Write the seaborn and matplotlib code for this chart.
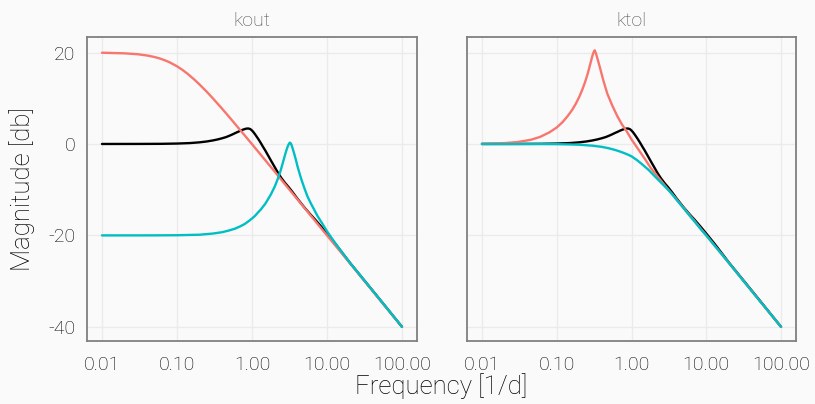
import pandas as pd
import seaborn as sns
import matplotlib.pyplot as plt

# 讀圖估計的數值 (頻率 [1/d], 幅度 [db])
# 基準曲線 (黑色), 兩個面板相同
base_f = [0.01, 0.03, 0.06, 0.1, 0.15, 0.2, 0.25, 0.3, 0.35, 0.4, 0.45, 0.5, 0.55, 0.6, 0.65,
          0.7, 0.75, 0.8, 0.85, 0.9, 0.95, 1.0, 1.05, 1.1, 1.2, 1.3, 1.4, 1.5, 1.65, 1.8, 2.0,
          2.2, 2.45, 2.75, 3.1, 3.5, 4.0, 5.0, 6.0, 7.0, 8.5, 10, 13, 20, 50, 100]
base_db = [0.0, 0.01, 0.03, 0.09, 0.2, 0.36, 0.55, 0.77, 1.0, 1.25, 1.5, 1.8, 2.1, 2.4, 2.65,
           2.9, 3.1, 3.27, 3.37, 3.38, 3.25, 2.95, 2.55, 2.1, 1.2, 0.3, -0.6, -1.4, -2.6, -3.7, -5.0,
           -6.2, -7.4, -8.5, -9.5, -10.6, -11.9, -13.9, -15.4, -16.6, -18.2, -19.6, -21.9, -25.9, -33.9, -40.0]

# kout 面板
kout_hi_f = [0.01, 0.02, 0.03, 0.04, 0.05, 0.06, 0.07, 0.08, 0.1, 0.12, 0.14, 0.17, 0.2, 0.25,
             0.3, 0.4, 0.5, 0.6, 0.7, 0.85, 1.0, 1.3, 1.6, 2.0, 2.5, 3.0, 4.0, 5.0, 7.0, 10, 20, 50, 100]
kout_hi_db = [19.96, 19.83, 19.63, 19.35, 19.03, 18.66, 18.26, 17.85, 16.99, 16.13, 15.29, 14.09,
              13.01, 11.4, 10.0, 7.7, 5.85, 4.3, 3.0, 1.35, -0.04, -2.3, -4.1, -6.0, -7.97, -9.55,
              -12.04, -13.98, -16.9, -20.0, -26.0, -34.0, -40.0]
kout_lo_f = [0.01, 0.05, 0.1, 0.2, 0.3, 0.4, 0.5, 0.6, 0.7, 0.8, 0.9, 1.0, 1.1, 1.2, 1.3, 1.5,
             1.62, 1.79, 2.0, 2.2, 2.4, 2.6, 2.8, 2.9, 3.0, 3.1, 3.2, 3.3, 3.4, 3.5, 3.65, 3.85,
             4.06, 4.5, 5.0, 5.5, 6.09, 7.5, 8.5, 10, 13, 20, 50, 100]
kout_lo_db = [-20.0, -19.99, -19.96, -19.85, -19.6, -19.3, -18.9, -18.5, -18.0, -17.5, -16.9,
              -16.3, -15.7, -15.0, -14.4, -13.1, -12.2, -11.0, -9.4, -7.7, -5.9, -3.9, -2.0, -1.2,
              -0.5, 0.0, 0.3, 0.1, -0.4, -1.1, -2.1, -3.5, -5.0, -7.5, -9.7, -11.5, -13.0, -15.8,
              -17.2, -19.1, -21.8, -25.9, -33.9, -40.0]

# ktol 面板
ktol_hi_f = [0.01, 0.02, 0.03, 0.045, 0.06, 0.08, 0.1, 0.12, 0.14, 0.16, 0.18, 0.2, 0.22, 0.24,
             0.26, 0.28, 0.3, 0.31, 0.322, 0.335, 0.35, 0.38, 0.42, 0.475, 0.55, 0.645, 0.75,
             0.876, 1.0, 1.19, 1.5, 1.8, 2.2, 2.7, 3.3, 4.0, 5.0, 7.0, 10, 20, 50, 100]
ktol_hi_db = [0.05, 0.19, 0.42, 0.91, 1.55, 2.55, 3.6, 4.8, 6.1, 7.4, 8.8, 10.3, 11.9, 13.6,
              15.4, 17.4, 19.3, 20.0, 20.5, 19.8, 18.7, 16.6, 13.9, 11.0, 8.5, 6.1, 4.2,
              2.6, 1.0, -0.8, -3.2, -5.2, -7.0, -8.8, -10.5, -12.1, -14.0, -16.9, -20.0, -26.0, -34.0, -40.0]
ktol_lo_f = [0.01, 0.05, 0.1, 0.15, 0.2, 0.3, 0.4, 0.5, 0.6, 0.7, 0.8, 0.9, 1.0, 1.2, 1.4, 1.7,
             2.0, 2.5, 3.0, 3.5, 4.0, 5.0, 6.0, 7.0, 8.5, 10, 20, 50, 100]
ktol_lo_db = [0.0, -0.01, -0.04, -0.1, -0.17, -0.37, -0.63, -0.95, -1.3, -1.65, -2.0, -2.35, -2.7,
              -3.6, -4.5, -5.7, -6.9, -8.5, -9.8, -11.0, -12.2, -14.1, -15.7, -17.0, -18.7, -20.0,
              -26.0, -34.0, -40.0]

panels = ['kout', 'ktol']
tick_vals = [0.01, 0.1, 1, 10, 100]
tick_labels = ['0.01', '0.10', '1.00', '10.00', '100.00']
y_ticks = [20, 0, -20, -40]

# 整理成長表格
rows = []
for panel, series, f, db in [
    ('kout', 'base', base_f, base_db),
    ('kout', 'hi', kout_hi_f, kout_hi_db),
    ('kout', 'lo', kout_lo_f, kout_lo_db),
    ('ktol', 'base', base_f, base_db),
    ('ktol', 'hi', ktol_hi_f, ktol_hi_db),
    ('ktol', 'lo', ktol_lo_f, ktol_lo_db),
]:
    for fi, di in zip(f, db):
        rows.append({'panel': panel, 'series': series, 'freq': fi, 'db': di})
df = pd.DataFrame(rows)

palette = {'base': 'black', 'hi': '#F8766D', 'lo': '#00BFC4'}

sns.set_style('white')
plt.rcParams['font.family'] = ['Roboto', 'DejaVu Sans']
plt.rcParams['font.weight'] = 'light'
plt.rcParams['axes.titleweight'] = 'light'
plt.rcParams['axes.unicode_minus'] = False

bg = '#FAFAFA'
fig = plt.figure(figsize=(8.15, 4.04), dpi=100, facecolor=bg)
ax1 = fig.add_axes([87 / 815, 1 - 341 / 404, 330 / 815, 304 / 404])
ax2 = fig.add_axes([467 / 815, 1 - 341 / 404, 329 / 815, 304 / 404], sharey=ax1)

for ax, panel in zip([ax1, ax2], panels):
    sns.lineplot(data=df[df['panel'] == panel], x='freq', y='db', hue='series',
                 hue_order=['base', 'hi', 'lo'], palette=palette, linewidth=1.7,
                 legend=False, ax=ax)
    ax.set_facecolor(bg)
    ax.set_xscale('log')
    ax.set_xlim(10 ** -2.2, 10 ** 2.2)
    ax.set_ylim(-43.1, 23.4)
    ax.set_xticks(tick_vals)
    ax.set_xticklabels(tick_labels)
    ax.minorticks_off()
    ax.set_yticks(y_ticks)
    ax.set_yticklabels([str(v) for v in y_ticks])
    ax.grid(True, color='#EBEBEB', linewidth=1.0)
    ax.set_axisbelow(True)
    for sp in ax.spines.values():
        sp.set_color('#808080')
        sp.set_linewidth(1.3)
    ax.tick_params(axis='both', direction='out', length=4.5, width=1.1, color='#1A1A1A',
                   labelsize=14, labelcolor='black', pad=4)
    ax.tick_params(axis='x', pad=6)
    ax.set_xlabel('')
    ax.set_ylabel('')
    ax.set_title(panel, fontsize=14, color='#4D4D4D', pad=8)

ax2.tick_params(axis='y', left=False, labelleft=False)

# 共用軸標題
fig.text(441 / 815, 1 - 386 / 404, 'Frequency [1/d]', ha='center', va='center',
         fontsize=18.5, color='black')
fig.text(22 / 815, 1 - 189 / 404, 'Magnitude [db]', ha='center', va='center',
         rotation=90, fontsize=18.5, color='black')

plt.savefig('out.png', dpi=100, facecolor=bg)
